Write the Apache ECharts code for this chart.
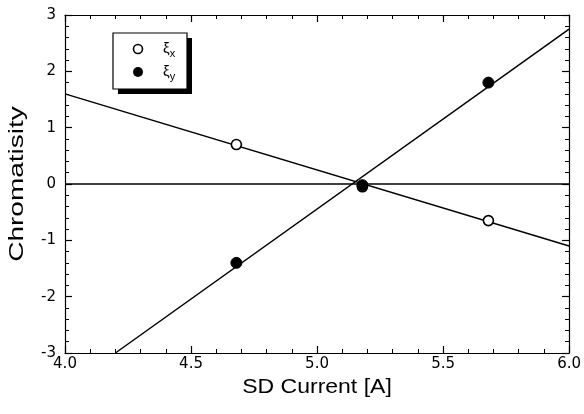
<!DOCTYPE html>
<html><head><meta charset="utf-8">
<script src="https://cdn.jsdelivr.net/npm/echarts@6/dist/echarts.min.js"></script>
<style>html,body{margin:0;padding:0;background:#fff}#c{width:584px;height:414px}</style>
</head><body><div id="c"></div>
<script>
const current = [4.68, 5.18, 5.68];
const xiX = [0.70, -0.05, -0.65];
const xiY = [-1.40, -0.02, 1.80];
const fitX = [[4.0, 1.60], [6.0, -1.10]];
const fitY = [[4.2, -3.0], [6.0, 2.75]];
const zeroLine = [[4.0, 0], [6.0, 0]];
const xTicks = ['4.0','4.5','5.0','5.5','6.0'];
const xTitle = 'SD Current [A]';
const yTitle = 'Chromatisity';

const font = 'Liberation Sans, Arial, sans-serif';
const tickFont = 'DejaVu Sans, sans-serif';
const chart = echarts.init(document.getElementById('c'));
const axisCommon = {
  axisLine: {show: true, onZero: false, lineStyle: {color: '#000', width: 1.2}},
  axisTick: {show: true, inside: true, length: 7, lineStyle: {color: '#000', width: 1.2}},
  minorTick: {show: true, splitNumber: 5, length: 4, lineStyle: {color: '#000', width: 1}},
  splitLine: {show: false}
};
function lineSeries(data) {
  return {type: 'line', data: data, symbol: 'none', silent: true,
    lineStyle: {color: '#000', width: 1.5}, z: 2};
}
chart.setOption({
  animation: false,
  grid: {left: 65, right: 12, top: 15, bottom: 61},
  xAxis: [
    Object.assign({type: 'value', min: 4.0, max: 6.0, interval: 0.5, position: 'bottom',
      axisLabel: {fontFamily: tickFont, fontSize: 15, color: '#000', margin: 4,
        formatter: v => xTicks[Math.round((v - 4) / 0.5)]}}, axisCommon),
    Object.assign({type: 'value', min: 4.0, max: 6.0, interval: 0.5, position: 'top',
      axisLabel: {show: false}}, axisCommon)
  ],
  yAxis: [
    Object.assign({type: 'value', min: -3, max: 3, interval: 1, position: 'left',
      axisLabel: {fontFamily: tickFont, fontSize: 15, color: '#000', margin: 9}}, axisCommon),
    Object.assign({type: 'value', min: -3, max: 3, interval: 1, position: 'right',
      axisLabel: {show: false}}, axisCommon)
  ],
  series: [
    lineSeries(zeroLine),
    lineSeries(fitX),
    lineSeries(fitY),
    {type: 'scatter', name: 'ξx', data: current.map((c, i) => [c, xiX[i]]),
      symbol: 'circle', symbolSize: 10, z: 3,
      itemStyle: {color: '#fff', borderColor: '#000', borderWidth: 1.6, opacity: 1}},
    {type: 'scatter', name: 'ξy', data: current.map((c, i) => [c, xiY[i]]),
      symbol: 'circle', symbolSize: 11, z: 3,
      itemStyle: {color: '#000', borderColor: '#000', borderWidth: 1, opacity: 1}}
  ],
  graphic: [
    {type: 'text', x: 317, y: 387, scaleX: 1.15, z: 5, style: {
      text: xTitle, fontFamily: font, fontSize: 20, fill: '#000',
      align: 'center', verticalAlign: 'middle'}},
    {type: 'text', x: 17, y: 184, rotation: Math.PI / 2, scaleX: 1.4, z: 5, style: {
      text: yTitle, fontFamily: font, fontSize: 20, fill: '#000',
      align: 'center', verticalAlign: 'middle'}},
    {type: 'rect', shape: {x: 118, y: 38, width: 74, height: 56}, style: {fill: '#000'}, z: 10},
    {type: 'rect', shape: {x: 113, y: 33, width: 74, height: 56},
      style: {fill: '#fff', stroke: '#000', lineWidth: 1.2}, z: 11},
    {type: 'circle', shape: {cx: 138, cy: 49, r: 4.5},
      style: {fill: '#fff', stroke: '#000', lineWidth: 1.6}, z: 12},
    {type: 'circle', shape: {cx: 138, cy: 72, r: 5},
      style: {fill: '#000'}, z: 12},
    {type: 'text', x: 163, y: 39, z: 12, style: {
      text: '{a|ξ}{b|x}', rich: {a: {fontFamily: font, fontSize: 15, fill: '#000'},
        b: {fontFamily: font, fontSize: 11, fill: '#000', padding: [9, 0, 0, 0]}}}},
    {type: 'text', x: 163, y: 62, z: 12, style: {
      text: '{a|ξ}{b|y}', rich: {a: {fontFamily: font, fontSize: 15, fill: '#000'},
        b: {fontFamily: font, fontSize: 11, fill: '#000', padding: [9, 0, 0, 0]}}}}
  ]
});
</script></body></html>
